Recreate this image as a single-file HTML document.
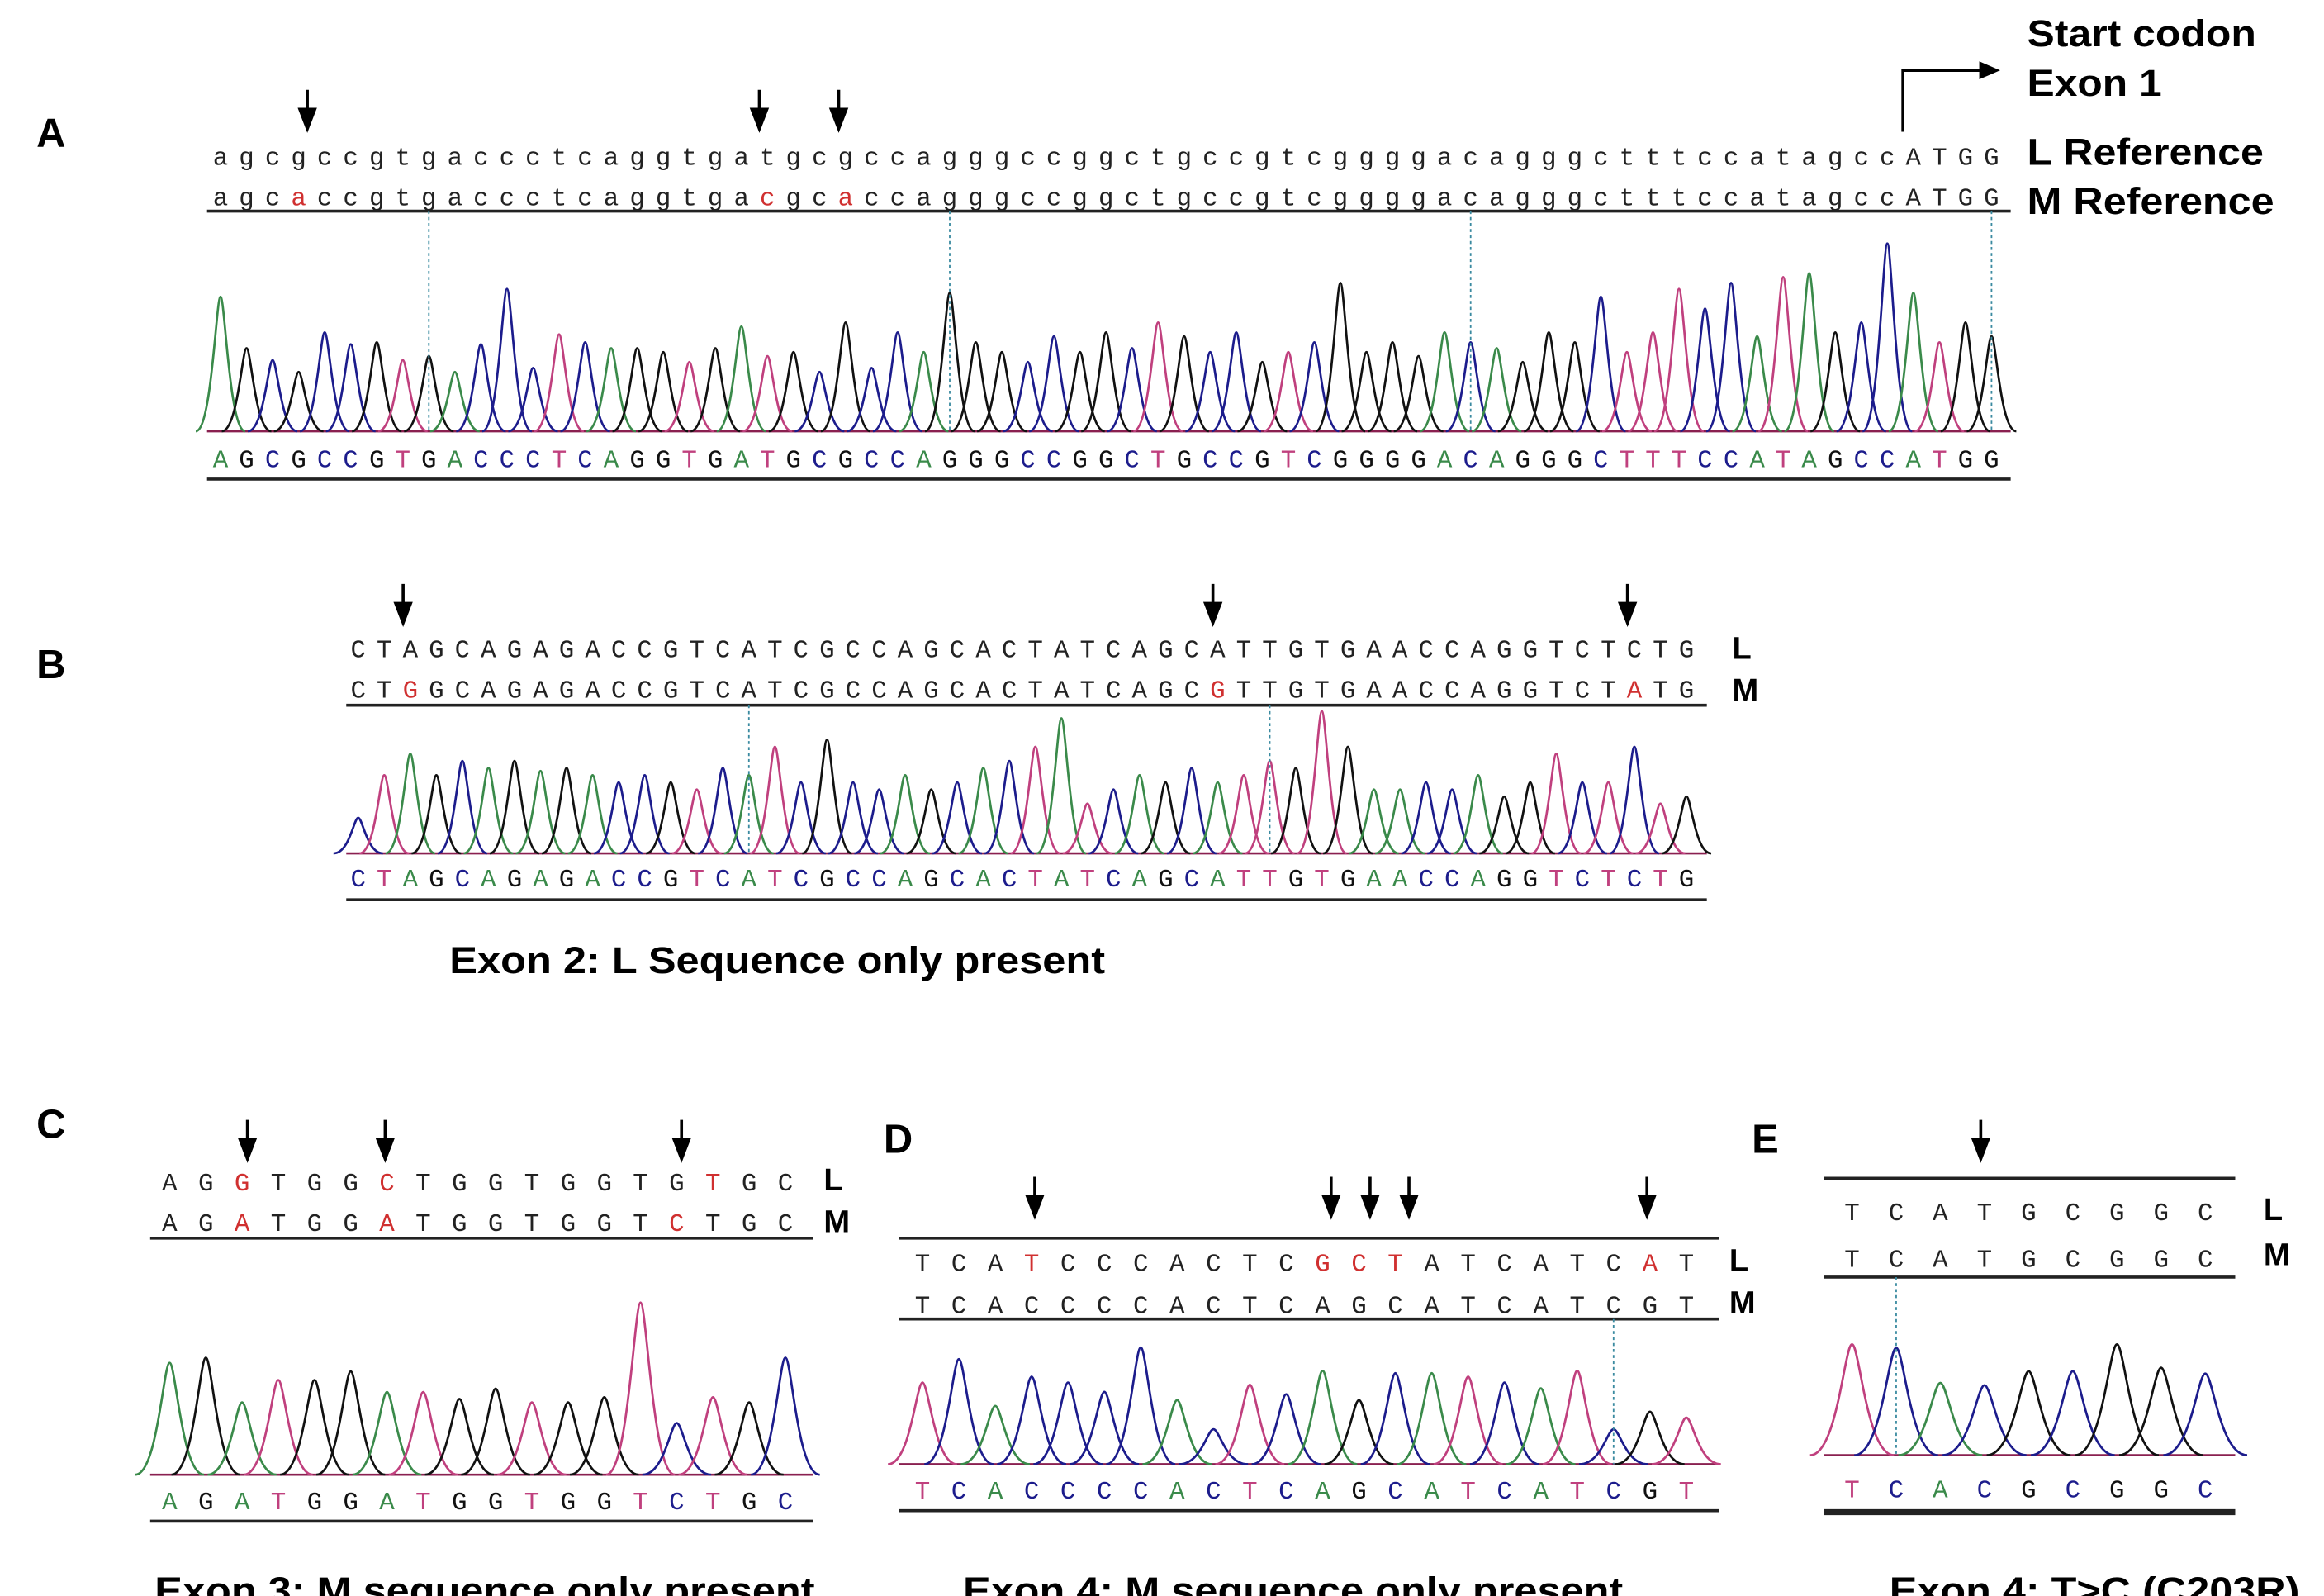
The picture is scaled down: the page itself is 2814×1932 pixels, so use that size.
<!DOCTYPE html>
<html><head><meta charset="utf-8"><style>
html,body{margin:0;padding:0;background:#fff}
svg{display:block}
.lbl{font-family:"Liberation Sans",Arial,sans-serif;font-weight:bold;fill:#000}
.seq{font-family:"Liberation Mono","DejaVu Sans Mono",monospace;font-size:17px}
</style></head><body>
<svg id="fig" width="2814" height="1932" viewBox="0 0 1552 1066" xmlns="http://www.w3.org/2000/svg">
<g>
<text class="lbl" x="24" y="98" font-size="27">A</text>
<text class="lbl" x="24" y="453" font-size="27">B</text>
<text class="lbl" x="24" y="760" font-size="27">C</text>
<text class="lbl" x="590" y="770" font-size="27">D</text>
<text class="lbl" x="1170" y="770" font-size="27">E</text>
<text class="lbl" x="1354" y="31" font-size="25" textLength="153" lengthAdjust="spacingAndGlyphs">Start codon</text>
<text class="lbl" x="1354" y="64" font-size="25" textLength="90" lengthAdjust="spacingAndGlyphs">Exon 1</text>
<text class="lbl" x="1354" y="110" font-size="25" textLength="158" lengthAdjust="spacingAndGlyphs">L Reference</text>
<text class="lbl" x="1354" y="143" font-size="25" textLength="165" lengthAdjust="spacingAndGlyphs">M Reference</text>
<path d="M1271,88 V47 H1326" fill="none" stroke="#000" stroke-width="2"/>
<path d="M1322,41 L1336,47 L1322,53 Z" fill="#000"/>
<text class="lbl" x="300" y="650" font-size="25" textLength="438" lengthAdjust="spacingAndGlyphs">Exon 2: L Sequence only present</text>
<text class="lbl" x="103" y="1071" font-size="25" textLength="441" lengthAdjust="spacingAndGlyphs">Exon 3: M sequence only present</text>
<text class="lbl" x="643" y="1071" font-size="25" textLength="441" lengthAdjust="spacingAndGlyphs">Exon 4: M sequence only present</text>
<text class="lbl" x="1262" y="1071" font-size="25" textLength="274" lengthAdjust="spacingAndGlyphs">Exon 4: T&gt;C (C203R)</text>
</g>
</svg>
<script>
const seqA_L="agcgccgtgaccctcaggtgatgcgccagggccggctgccgtcggggacagggctttccatagccATGG";
const seqA_M="agcaccgtgaccctcaggtgacgcaccagggccggctgccgtcggggacagggctttccatagccATGG";
const callA="AGCGCCGTGACCCTCAGGTGATGCGCCAGGGCCGGCTGCCGTCGGGGACAGGGCTTTCCATAGCCATGG";
const heightsA=[0.68,0.42,0.36,0.3,0.5,0.44,0.45,0.36,0.38,0.3,0.44,0.72,0.32,0.49,0.45,0.42,0.42,0.4,0.35,0.42,0.53,0.38,0.4,0.3,0.55,0.32,0.5,0.4,0.7,0.45,0.4,0.35,0.48,0.4,0.5,0.42,0.55,0.48,0.4,0.5,0.35,0.4,0.45,0.75,0.4,0.45,0.38,0.5,0.45,0.42,0.35,0.5,0.45,0.68,0.4,0.5,0.72,0.62,0.75,0.48,0.78,0.8,0.5,0.55,0.95,0.7,0.45,0.55,0.48];
const seqB_L="CTAGCAGAGACCGTCATCGCCAGCACTATCAGCATTGTGAACCAGGTCTCTG";
const seqB_M="CTGGCAGAGACCGTCATCGCCAGCACTATCAGCGTTGTGAACCAGGTCTATG";
const callB="CTAGCAGAGACCGTCATCGCCAGCACTATCAGCATTGTGAACCAGGTCTCTG";
const heightsB=[0.25,0.55,0.7,0.55,0.65,0.6,0.65,0.58,0.6,0.55,0.5,0.55,0.5,0.45,0.6,0.55,0.75,0.5,0.8,0.5,0.45,0.55,0.45,0.5,0.6,0.65,0.75,0.95,0.35,0.45,0.55,0.5,0.6,0.5,0.55,0.65,0.6,1.0,0.75,0.45,0.45,0.5,0.45,0.55,0.4,0.5,0.7,0.5,0.5,0.75,0.35,0.4,0.45];
const seqC_L="AGGTGGCTGGTGGTGTGC";
const seqC_M="AGATGGATGGTGGTCTGC";
const callC="AGATGGATGGTGGTCTGC";
const heightsC=[0.65,0.68,0.42,0.55,0.55,0.6,0.48,0.48,0.44,0.5,0.42,0.42,0.45,1.0,0.3,0.45,0.42,0.68];
const seqD_L="TCATCCCACTCGCTATCATCAT";
const seqD_M="TCACCCCACTCAGCATCATCGT";
const callD="TCACCCCACTCAGCATCATCGT";
const heightsD=[0.7,0.9,0.5,0.75,0.7,0.62,1.0,0.55,0.3,0.68,0.6,0.8,0.55,0.78,0.78,0.75,0.7,0.65,0.8,0.3,0.45,0.4];
const seqE_L="TCATGCGGC";
const seqE_M="TCATGCGGC";
const callE="TCACGCGGC";
const heightsE=[0.95,0.92,0.62,0.6,0.72,0.72,0.95,0.75,0.7];

const NS="http://www.w3.org/2000/svg";
const svg=document.getElementById('fig');
const COL={A:'#3a8a4a',C:'#1c1c8c',G:'#111111',T:'#c0407e'};
function mk(t,a){const e=document.createElementNS(NS,t);for(const k in a)e.setAttribute(k,a[k]);return e;}
function xScale(p,i){return p.x0+i*p.dx;}
function hScale(p,v){return v*p.hmax;}

function panel(p){
  const g=mk('g',{});
  
  
  svg.appendChild(g);
  [[p.L,p.yL,'l'],[p.M,p.yM,'m']].forEach(([s,y,n])=>{
    for(let i=0;i<s.length;i++){
      let mis;
      if(n==='m') mis = p.redM ? p.redM.includes(i) : s[i]!==p.L[i];
      else mis = p.redL ? p.redL.includes(i) : false;
      const t=mk('text',{x:xScale(p,i),y:y,'text-anchor':'middle','class':'seq',fill:mis?'#d03030':'#222','font-size':p.fs});
      
      
      t.textContent=s[i];g.appendChild(t);
    }
  });
  p.lines.forEach(([y,w])=>{
    const l=mk('line',{x1:p.lx1,x2:p.lx2,y1:y,y2:y,stroke:'#222','stroke-width':w});
    
    
    g.appendChild(l);
  });
  const bl=mk('line',{x1:p.lx1,x2:p.lx2,y1:p.base,y2:p.base,stroke:'#8a2050','stroke-width':1.5});
  
  
  g.appendChild(bl);
  const w=p.dx*0.95;
  for(let i=0;i<p.call.length;i++){
    const x=xScale(p,i),b=p.base,t=b-hScale(p,p.h[i]);
    const d=`M${x-w},${b} C${x-w*0.35},${b} ${x-w*0.18},${t} ${x},${t} C${x+w*0.18},${t} ${x+w*0.35},${b} ${x+w},${b}`;
    const pk=mk('path',{d:d,fill:'none',stroke:COL[p.call[i]],'stroke-width':1.5});
    
    
    g.appendChild(pk);
    const c=mk('text',{x:x,y:p.yCall,'text-anchor':'middle','class':'seq',fill:COL[p.call[i]],'font-size':p.fs});
    
    
    c.textContent=p.call[i];g.appendChild(c);
  }
  (p.dots||[]).forEach(i=>{
    const l=mk('line',{x1:xScale(p,i),x2:xScale(p,i),y1:p.dotY,y2:p.base,stroke:'#3a8aa0','stroke-width':1,'stroke-dasharray':'2,2'});
    
    
    g.appendChild(l);
  });
  p.arrows.forEach(x=>{
    const a=mk('path',{d:`M${x},${p.ay} V${p.ay+18} M${x-5},${p.ay+13} L${x},${p.ay+26} L${x+5},${p.ay+13} Z`,stroke:'#000','stroke-width':2,fill:'#000'});
    
    
    g.appendChild(a);
  });
  (p.side||[]).forEach(([s,x,y,wt])=>{
    const t=mk('text',{x:x,y:y,'class':'lbl','font-size':21,'font-weight':wt||'bold'});
    
    
    t.textContent=s;g.appendChild(t);
  });
}
panel({name:'panel-a',L:seqA_L,M:seqA_M,call:callA,h:heightsA,x0:147,dx:17.4,yL:110,yM:137,yCall:312,base:288,hmax:132,fs:18,lx1:138,lx2:1343,lines:[[141,2],[320,2]],arrows:[205,507,560],ay:60,dots:[8,28,48,68],dotY:141});
panel({name:'panel-b',L:seqB_L,M:seqB_M,call:callB,h:heightsB,x0:239,dx:17.4,yL:439,yM:466,yCall:592,base:570,hmax:95,fs:18,lx1:231,lx2:1140,lines:[[471,2],[601,2]],arrows:[269,810,1087],ay:390,dots:[15,35],dotY:471,side:[['L',1157,440],['M',1157,468]]});
panel({name:'panel-c',L:seqC_L,M:seqC_M,call:callC,h:heightsC,x0:113,dx:24.2,yL:795,yM:822,yCall:1008,base:985,hmax:115,fs:19,redL:[2,6,15],lx1:100,lx2:543,lines:[[827,2],[1016,2]],arrows:[165,257,455],ay:748,side:[['L',550,795,'normal'],['M',550,823,'normal']]});
panel({name:'panel-d',L:seqD_L,M:seqD_M,call:callD,h:heightsD,x0:616,dx:24.3,yL:849,yM:877,yCall:1001,base:978,hmax:78,fs:19,redL:[3,11,12,13,20],redM:[],lx1:600,lx2:1148,lines:[[827,2],[881,2],[1009,2]],arrows:[691,889,915,941,1100],ay:786,dots:[19],dotY:881,side:[['L',1155,849],['M',1155,877]]});
panel({name:'panel-e',L:seqE_L,M:seqE_M,call:callE,h:heightsE,x0:1237,dx:29.5,yL:815,yM:846,yCall:1000,base:972,hmax:78,fs:21,lx1:1218,lx2:1493,lines:[[787,2],[853,2],[1010,4]],arrows:[1323],ay:748,dots:[1],dotY:853,side:[['L',1512,815],['M',1512,845]]});
</script>
</body></html>
